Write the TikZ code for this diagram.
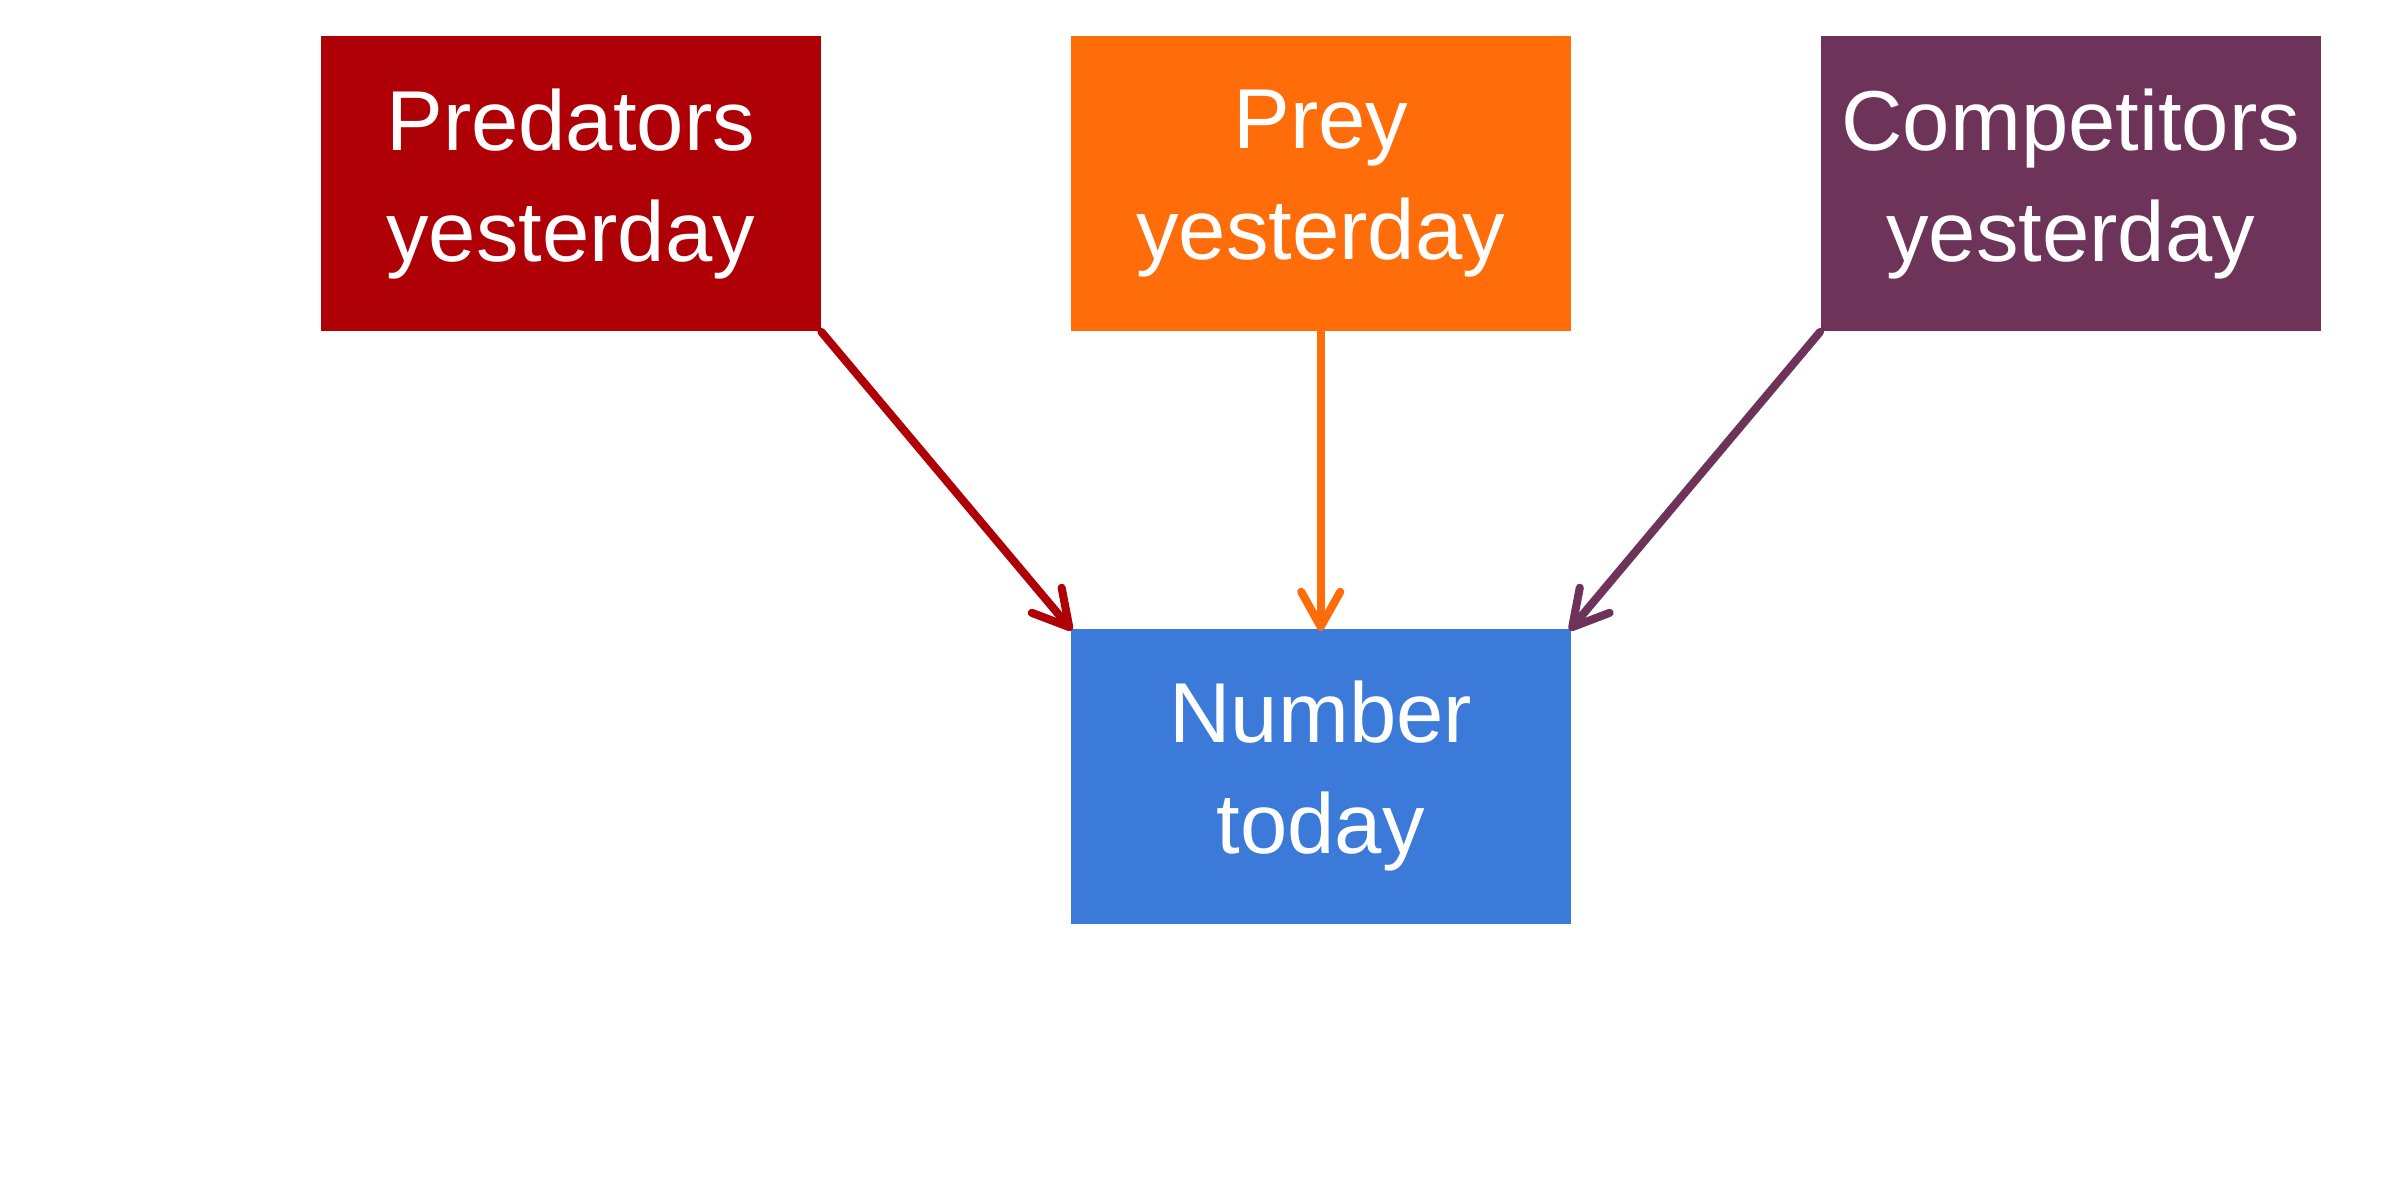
\documentclass[tikz,border=0pt]{standalone}
\usepackage{fontspec}
\setmainfont{Liberation Sans}
\usetikzlibrary{arrows.meta}
\definecolor{predred}{HTML}{AE0006}
\definecolor{preyorange}{HTML}{FF6D0A}
\definecolor{comppurple}{HTML}{6E3359}
\definecolor{numblue}{HTML}{3B7AD8}
\tikzset{
  box/.style={minimum width=5cm, minimum height=2.95cm, inner sep=0pt, align=center,
    text=white, font=\fontsize{24.2}{31.5}\selectfont},
  link/.style={line width=2.3pt, line cap=round,
    -{Straight Barb[length=3.5mm, width=3.9mm, line cap=round, line join=round]}, shorten >=-0.8pt}
}
\begin{document}
\begin{tikzpicture}
\useasboundingbox (0,0) rectangle (24,-12);
\node[box, fill=predred, anchor=north west] (pred) at (3.20,-0.355) {Predators\\yesterday};
\node[box, fill=preyorange, anchor=north west] (prey) at (10.70,-0.355) {Prey\\yesterday};
\node[box, fill=comppurple, anchor=north west] (comp) at (18.20,-0.355) {Competitors\\yesterday};
\node[box, fill=numblue, anchor=north west] (num) at (10.70,-6.28) {Number\\today};
\draw[link, predred] (pred.south east) -- (num.north west);
\draw[link, preyorange] (prey.south) -- (num.north);
\draw[link, comppurple] (comp.south west) -- (num.north east);
\end{tikzpicture}
\end{document}
